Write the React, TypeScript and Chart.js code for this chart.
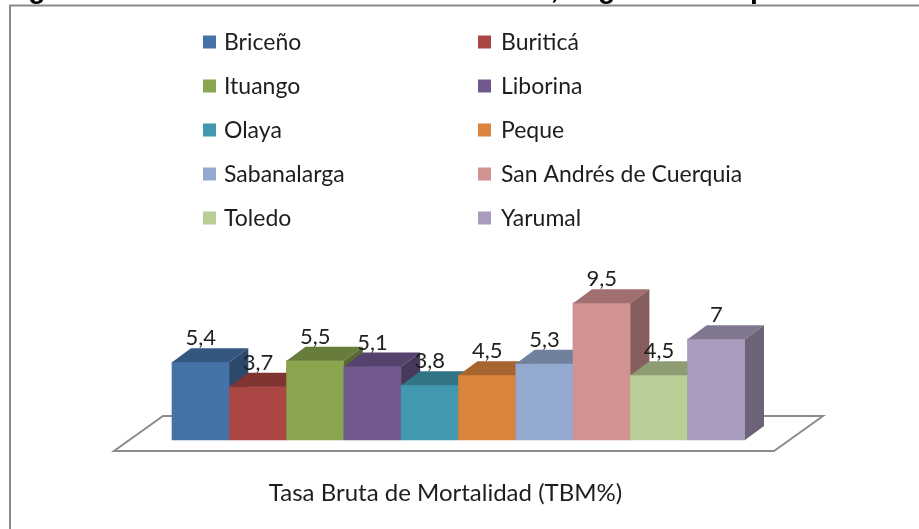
import React, { useEffect, useRef } from "react";
import { Chart, registerables } from "chart.js";

Chart.register(...registerables);

const categories = ["Tasa Bruta de Mortalidad (TBM%)"];
const municipios = [
  "Briceño",
  "Buriticá",
  "Ituango",
  "Liborina",
  "Olaya",
  "Peque",
  "Sabanalarga",
  "San Andrés de Cuerquia",
  "Toledo",
  "Yarumal",
];
const tbm = [5.4, 3.7, 5.5, 5.1, 3.8, 4.5, 5.3, 9.5, 4.5, 7];
const colors = [
  "#4572A7",
  "#AA4643",
  "#89A54E",
  "#71588F",
  "#4198AF",
  "#DB843D",
  "#93A9CF",
  "#D19392",
  "#B9CD96",
  "#A99BBD",
];
const titleText = "Figura 3. Tasa Bruta de Mortalidad Norte, según municipio";

const FONT = "Lato, 'Open Sans', sans-serif";
const DX = 19;
const DY = 14;

function shade(hex: string, f: number): string {
  const n = parseInt(hex.slice(1), 16);
  const r = Math.round(((n >> 16) & 255) * f);
  const g = Math.round(((n >> 8) & 255) * f);
  const b = Math.round((n & 255) * f);
  return `rgb(${r},${g},${b})`;
}

const decor = {
  id: "decor",
  beforeDraw(chart: any) {
    const { ctx, width, height } = chart;
    ctx.save();
    ctx.fillStyle = "#ffffff";
    ctx.fillRect(0, 0, width, height);
    // cut-off title (only descenders visible)
    ctx.fillStyle = "#000000";
    ctx.font = "bold 28.5px 'Liberation Sans', Arial, sans-serif";
    ctx.textBaseline = "alphabetic";
    ctx.textAlign = "left";
    ctx.fillText(titleText, 3, -2);
    // chart frame
    ctx.strokeStyle = "#8a8a8a";
    ctx.lineWidth = 2;
    ctx.strokeRect(10, 5.5, width + 20, height + 20);
    ctx.restore();
  },
  beforeDatasetsDraw(chart: any) {
    const { ctx, chartArea } = chart;
    const { left, right, bottom } = chartArea;
    const fy = bottom + 11;
    const by = bottom - 24;
    const fl = left - 58;
    const fr = right + 29;
    const sx = 49;
    ctx.save();
    ctx.beginPath();
    ctx.moveTo(fl, fy);
    ctx.lineTo(fr, fy);
    ctx.lineTo(fr + sx, by);
    ctx.lineTo(fl + sx, by);
    ctx.closePath();
    ctx.fillStyle = "#ffffff";
    ctx.fill();
    ctx.strokeStyle = "#8c8c8c";
    ctx.lineWidth = 2;
    ctx.stroke();
    ctx.restore();
  },
  afterDatasetsDraw(chart: any) {
    const { ctx } = chart;
    ctx.save();
    const n = chart.data.datasets.length;
    for (let i = 0; i < n; i++) {
      const meta = chart.getDatasetMeta(i);
      const el: any = meta.data[0];
      const { x, y, base, width } = el.getProps(["x", "y", "base", "width"], true);
      const l = x - width / 2;
      const r = x + width / 2;
      el.draw(ctx);
      const c = colors[i];
      ctx.fillStyle = shade(c, 0.76);
      ctx.beginPath();
      ctx.moveTo(l, y);
      ctx.lineTo(l + DX, y - DY);
      ctx.lineTo(r + DX, y - DY);
      ctx.lineTo(r, y);
      ctx.closePath();
      ctx.fill();
      ctx.fillStyle = shade(c, 0.64);
      ctx.beginPath();
      ctx.moveTo(r, y);
      ctx.lineTo(r + DX, y - DY);
      ctx.lineTo(r + DX, base - DY);
      ctx.lineTo(r, base);
      ctx.closePath();
      ctx.fill();
    }
    // value labels
    ctx.fillStyle = "#1e1e1e";
    ctx.font = `22px ${FONT}`;
    ctx.textAlign = "center";
    ctx.textBaseline = "middle";
    for (let i = 0; i < n; i++) {
      const el: any = chart.getDatasetMeta(i).data[0];
      const { x, y } = el.getProps(["x", "y"], true);
      ctx.fillText(String(tbm[i]).replace(".", ","), x, y - 24);
    }
    ctx.restore();
  },
  afterDraw(chart: any) {
    const { ctx } = chart;
    ctx.save();
    ctx.font = `23px ${FONT}`;
    ctx.textBaseline = "middle";
    ctx.textAlign = "left";
    chart.data.datasets.forEach((ds: any, i: number) => {
      const col = i % 2;
      const row = Math.floor(i / 2);
      const cy = 42 + row * 44;
      const sx = col === 0 ? 203 : 478;
      const tx = col === 0 ? 224 : 501;
      ctx.fillStyle = ds.backgroundColor;
      ctx.fillRect(sx, cy - 6.5, 13, 13);
      ctx.fillStyle = "#1e1e1e";
      ctx.fillText(ds.label, tx, cy + 1);
    });
    ctx.restore();
  },
};

export default function App() {
  const ref = useRef<HTMLCanvasElement | null>(null);
  useEffect(() => {
    document.body.style.margin = "0";
    const canvas = ref.current;
    if (!canvas) return;
    const chart = new Chart(canvas, {
      type: "bar",
      data: {
        labels: categories,
        datasets: municipios.map((m, i) => ({
          label: m,
          data: [tbm[i]],
          backgroundColor: colors[i],
          borderWidth: 0,
          categoryPercentage: 1,
          barPercentage: 1,
        })),
      },
      options: {
        animation: false,
        responsive: false,
        devicePixelRatio: 1,
        layout: { padding: { left: 172, right: 174, top: 296, bottom: 0 } },
        plugins: {
          legend: { display: false },
          title: { display: false },
          tooltip: { enabled: false },
        },
        scales: {
          x: {
            display: true,
            grid: { display: false, drawTicks: false },
            border: { display: false },
            ticks: {
              font: { family: FONT, size: 24 },
              color: "#1e1e1e",
              padding: 39,
              labelOffset: -13,
              maxRotation: 0,
            },
            afterFit(scale: any) {
              scale.height = 89;
            },
          },
          y: {
            display: false,
            min: 0,
            max: 10,
          },
        },
      },
      plugins: [decor],
    });
    return () => chart.destroy();
  }, []);
  return (
    <div style={{ width: 919, height: 529 }}>
      <canvas ref={ref} width={919} height={529} style={{ display: "block" }} />
    </div>
  );
}
